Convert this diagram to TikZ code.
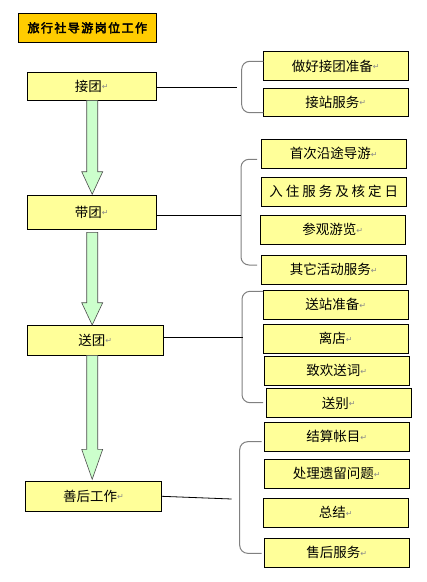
\documentclass[tikz,border=0pt]{standalone}
\usepackage{fontspec}
\setmainfont{Noto Sans CJK SC}
\newfontfamily\titlefont[FakeBold=3,LetterSpace=12]{Noto Sans CJK SC}
\newfontfamily\widefont[LetterSpace=22]{Noto Sans CJK SC}
\newfontfamily\symfont{DejaVu Sans}
\newcommand{\rmk}{\raisebox{1.5pt}{\symfont\fontsize{8}{8}\selectfont\textcolor{retgray}{↵}}}
\definecolor{boxyellow}{HTML}{FFFF99}
\definecolor{titlegold}{HTML}{FFCC00}
\definecolor{arrowgreen}{HTML}{CCFFCC}
\definecolor{retgray}{HTML}{8A8A8A}
\definecolor{brgray}{HTML}{808080}
\newcommand{\blockarrow}[4]{% x, ytop, yhead, ytip
  \draw[blockarr] (#1-5.5,#2) -- (#1+5.5,#2) -- (#1+5.5,#3) -- (#1+10.5,#3)
    -- (#1,#4) -- (#1-10.5,#3) -- (#1-5.5,#3) -- cycle;}
\tikzset{
  box/.style={draw=black, line width=0.9pt, fill=boxyellow, inner sep=0pt, outer sep=0pt,
    font=\fontsize{13.5}{13.5}\selectfont, text=black},
  titlebox/.style={draw=black, line width=0.9pt, fill=titlegold, inner sep=0pt, outer sep=0pt,
    font=\titlefont\fontsize{12}{12}\selectfont},
  conn/.style={draw=black, line width=0.8pt},
  brace/.style={draw=brgray, line width=1pt, rounded corners=8pt},
  blockarr/.style={draw=black!70, line width=0.6pt, fill=arrowgreen}
}
\begin{document}
\begin{tikzpicture}[x=1pt,y=-1pt]
\useasboundingbox[fill=white] (0,0) rectangle (427,582);
% title
\node[titlebox, minimum width=138, minimum height=29] (title) at (87.3,27.8) {旅行社导游岗位工作};
% main stages
\node[box, minimum width=129, minimum height=28] (jt) at (91.8,86.3) {接团\rmk};
\node[box, minimum width=129, minimum height=34.3] (dt) at (91.8,212.2) {带团\rmk};
\node[box, minimum width=136, minimum height=30] (st) at (95.3,340.3) {送团\rmk};
\node[box, minimum width=136.4, minimum height=30] (sh) at (93.5,496.3) {善后工作\rmk};
% group A
\node[box, minimum width=145, minimum height=28.6] (a1) at (335.8,66) {做好接团准备\rmk};
\node[box, minimum width=145, minimum height=28] (a2) at (335.8,102.3) {接站服务\rmk};
% group B
\node[box, minimum width=145, minimum height=29] (b1) at (333.8,153.8) {首次沿途导游\rmk};
\node[box, minimum width=145, minimum height=28.3] (b2) at (333.8,191.8) {\widefont 入住服务及核定日};
\node[box, minimum width=145, minimum height=29] (b3) at (332.8,229.8) {参观游览\rmk};
\node[box, minimum width=145, minimum height=29] (b4) at (333.8,269.8) {其它活动服务\rmk};
% group C
\node[box, minimum width=145, minimum height=29.3] (c1) at (335.8,304.7) {送站准备\rmk};
\node[box, minimum width=145, minimum height=29] (c2) at (335.8,338.8) {离店\rmk};
\node[box, minimum width=145, minimum height=29.3] (c3) at (336.8,370.7) {致欢送词\rmk};
\node[box, minimum width=145, minimum height=28.6] (c4) at (338.8,403) {送别\rmk};
% group D
\node[box, minimum width=145, minimum height=29] (d1) at (336.8,436.8) {结算帐目\rmk};
\node[box, minimum width=145, minimum height=29] (d2) at (336.8,473.8) {处理遗留问题\rmk};
\node[box, minimum width=145, minimum height=29] (d3) at (335.8,512.8) {总结\rmk};
\node[box, minimum width=145, minimum height=29] (d4) at (336.8,552.8) {售后服务\rmk};
% brackets
\draw[brace] (263.3,61.3) -- (241.7,61.3) -- (241.7,112.7) -- (263.3,112.7);
\draw[brace] (257,159.3) -- (241,159.3) -- (241,265) -- (257,265);
\draw[brace] (263,291.3) -- (242,291.3) -- (242,402.7) -- (263,402.7);
\draw[brace] (261.7,441.7) -- (239.7,441.7) -- (239.7,553.3) -- (261.7,553.3);
% connector ends
\coordinate (ea) at (237,87.3);
\coordinate (eb) at (241,215);
\coordinate (ec) at (243,337);
\coordinate (ed) at (231.7,499);
\draw[conn] (jt.east |- ea) -- (ea);
\draw[conn] (dt.east |- eb) -- (eb);
\draw[conn] (st.east |- ec) -- (ec);
\draw[conn] (sh.east) -- (ed);
% block arrows
\blockarrow{92.2}{100.3}{171.7}{194.3}
\blockarrow{92.2}{232.3}{302.7}{325}
\blockarrow{92.2}{355.3}{449.3}{479.3}
\end{tikzpicture}
\end{document}
